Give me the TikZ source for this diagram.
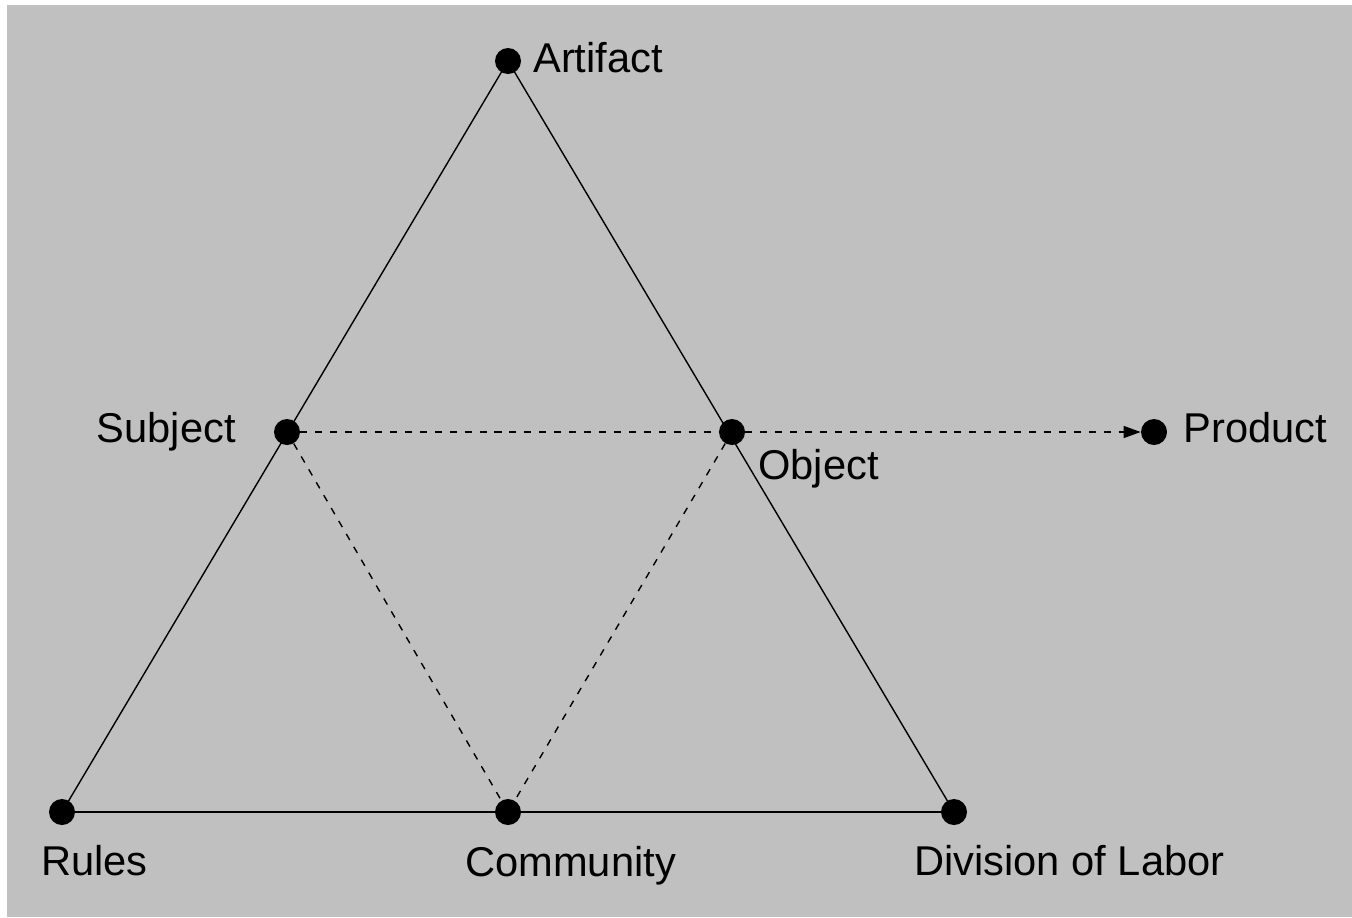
\documentclass[tikz,border=0pt]{standalone}
\usepackage{fontspec}
\setmainfont{Liberation Sans}
\usetikzlibrary{arrows.meta}
\definecolor{panelgray}{RGB}{192,192,192}

\begin{document}
\begin{tikzpicture}[x = 0.02cm, y = -0.02cm,
    dot/.style = {circle, fill = black, inner sep = 0pt, minimum size = 0.52cm},
    lbl/.style = {inner sep = 0pt, font = \fontsize{23.7}{28}\selectfont},
    side/.style = {line width = 0.8pt},
    link/.style = {line width = 0.8pt, dash pattern = on 4pt off 4.5pt}]
    \useasboundingbox (0,0) rectangle (1352,917);
    \fill[white] (0,0) rectangle (1352,917);
    \fill[panelgray] (7,5) rectangle (1352,917);

    \node[dot](artifact) at (508,61) {};
    \node[dot](subject) at (287,432) {};
    \node[dot](object) at (732,432) {};
    \node[dot](product) at (1154,432) {};
    \node[dot](rules) at (62,812) {};
    \node[dot](community) at (508,812) {};
    \node[dot](division) at (954,812) {};

    \node[lbl, anchor = base west](artifactText) at (533,72) {Artifact};
    \node[lbl, anchor = base east](subjectText) at (236,442) {Subject};
    \node[lbl, anchor = base west](objectText) at (758,479) {Object};
    \node[lbl, anchor = base west](productText) at (1183,442) {Product};
    \node[lbl, anchor = base west](rulesText) at (41,875) {Rules};
    \node[lbl, anchor = base west](communityText) at (465,876) {Community};
    \node[lbl, anchor = base west](divisionText) at (914,875) {Division of Labor};

    \draw [side] (artifact.center) -- (rules.center);
    \draw [side] (artifact.center) -- (division.center);
    \draw [side] (rules.center) -- (division.center);

    \draw [link] (subject) -- (object);
    \draw [link] (subject) -- (community);
    \draw [link] (object) -- (community);
    \draw [link, -{Triangle[length = 0.34cm, width = 0.24cm]}] (object) -- (product);
\end{tikzpicture}
\end{document}
